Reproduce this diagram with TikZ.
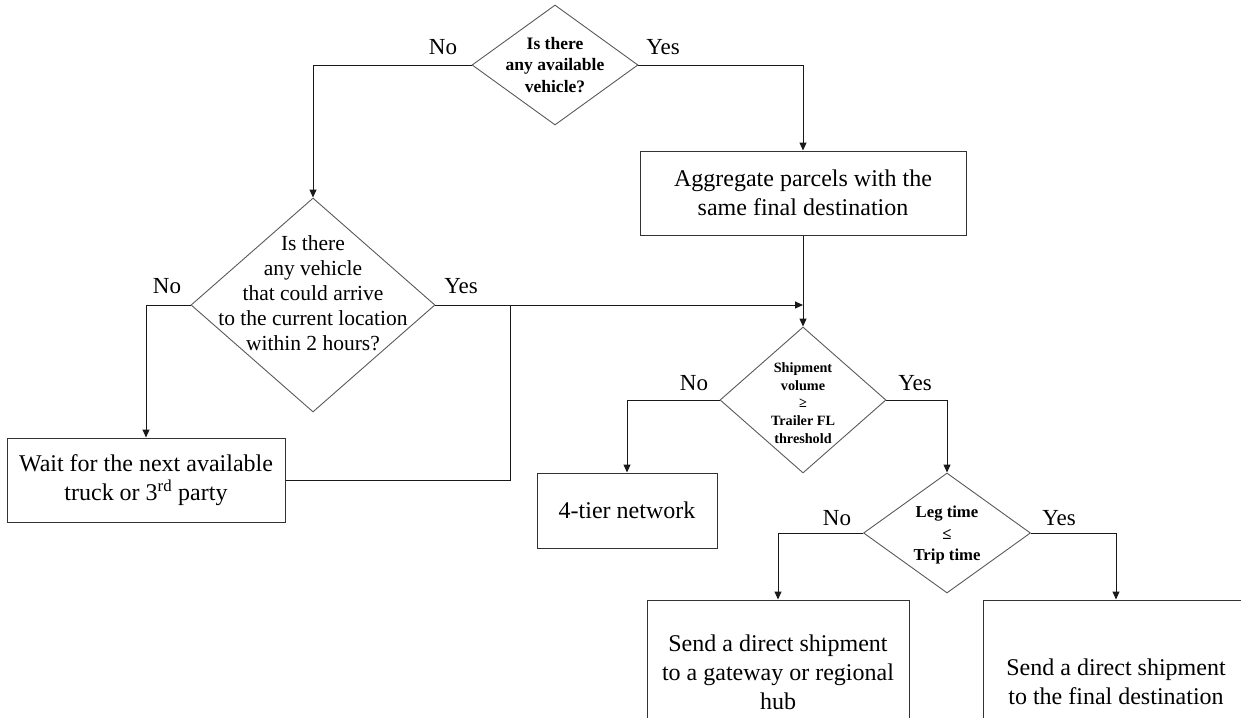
\documentclass[tikz,border=0pt]{standalone}
\usepackage{fontspec}
\setmainfont{Liberation Serif}
\usetikzlibrary{shapes.geometric,arrows.meta,calc}
\begin{document}
\begin{tikzpicture}[x=1pt,y=-1pt,
  dia/.style n args={2}{diamond, draw=black!65, line width=0.9pt, inner sep=0pt,
    minimum width=#1, minimum height=#2},
  box/.style n args={2}{rectangle, draw=black!80, line width=1pt, align=center,
    minimum width=#1, minimum height=#2, inner sep=0pt,
    font=\fontsize{24}{29}\selectfont},
  qtext/.style={align=center, inner sep=0pt},
  lbl/.style={anchor=base, inner sep=0pt, font=\fontsize{23}{27}\selectfont},
  conn/.style={draw=black!90, line width=1pt},
  arr/.style={conn, -{Triangle[length=8pt,width=7pt]}}
]
\useasboundingbox (0,0) rectangle (1241,717);
\clip (0,0) rectangle (1241,717);

% decisions
\node[dia={166}{120}] (d1) at (555,65) {};
\node[qtext, font=\bfseries\fontsize{17.5}{21.7}\selectfont] (d1t) at (d1.center)
  {Is there\\any available\\vehicle?};

\node[dia={244}{214}] (d2) at (313,305) {};
\node[qtext, font=\fontsize{21.5}{25}\selectfont] (d2t) at (313,293)
  {Is there\\any vehicle\\that could arrive\\to the current location\\within 2 hours?};

\node[dia={166}{146}] (d3) at (803,400) {};
\node[qtext, font=\bfseries\fontsize{14.2}{17.7}\selectfont] (d3t) at (803,403)
  {Shipment\\volume\\≥\\Trailer FL\\threshold};

\node[dia={167}{120}] (d4) at (947,533) {};
\node[qtext, font=\bfseries\fontsize{16.7}{21.7}\selectfont] (d4t) at (947,535)
  {Leg time\\≤\\Trip time};

% process boxes
\node[box={326}{84}] (agg) at (803,193) {Aggregate parcels with the\\same final destination};
\node[box={278}{84}] (wait) at (146,480) {Wait for the next available\\truck or 3\textsuperscript{rd} party};
\node[box={180}{75}] (tier) at (627,510.5) {4-tier network};
\node[box={262}{144}] (gw) at (778,672) {Send a direct shipment\\to a gateway or regional\\hub};
\node[box={266}{164}] (fd) at (1116,682) {Send a direct shipment\\to the final destination};

% branch labels
\node[lbl] (l1n) at (443,55) {No};
\node[lbl] (l1y) at (663,55) {Yes};
\node[lbl] (l2n) at (167,293) {No};
\node[lbl] (l2y) at (461,293) {Yes};
\node[lbl] (l3n) at (694,390) {No};
\node[lbl] (l3y) at (915,390) {Yes};
\node[lbl] (l4n) at (837,525) {No};
\node[lbl] (l4y) at (1059,525) {Yes};

% connectors
\coordinate (join) at (510,305);
\draw[arr] (d1.west) -| (d2.north);
\draw[arr] (d1.east) -| (agg.north);
\draw[arr] (d2.west) -| (wait.north);
\draw[arr] (d2.east) -- (agg.south |- d2.east);
\draw[conn] (wait.east) -| (join);
\draw[arr] (agg.south) -- (d3.north);
\draw[arr] (d3.west) -| (tier.north);
\draw[arr] (d3.east) -| (d4.north);
\draw[arr] (d4.west) -| (gw.north);
\draw[arr] (d4.east) -| (fd.north);
\end{tikzpicture}
\end{document}
